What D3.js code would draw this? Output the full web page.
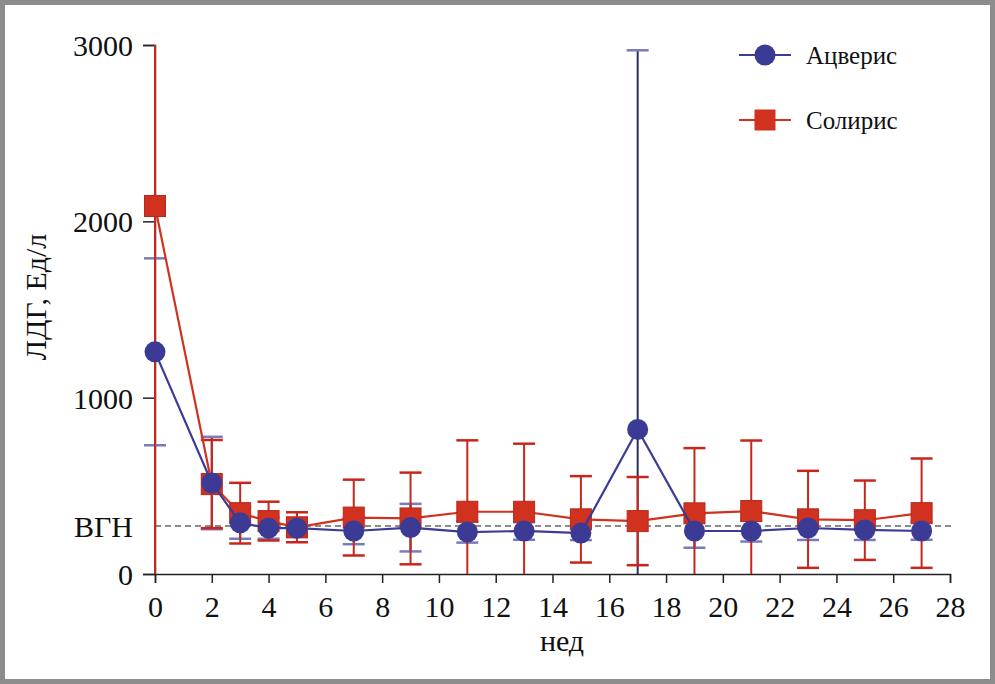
<!DOCTYPE html>
<html><head><meta charset="utf-8">
<script src="https://cdn.jsdelivr.net/npm/d3@7"></script>
<style>html,body{margin:0;padding:0;background:#fff;}svg{display:block;}</style>
</head><body>
<svg id="c" width="995" height="684"></svg>
<script>
const weeks = [0,2,3,4,5,7,9,11,13,15,17,19,21,23,25,27];
const acverisMean = [1260,516,290,260,260,244,263,238,244,232,820,244,244,261,250,244];
const acverisErr  = [530,262,90,60,50,75,135,60,50,40,2150,95,60,68,57,50];
const solirisMean = [2087,510,345,300,265,320,315,353,353,310,300,344,357,310,305,345];
const solirisErr  = [2200,250,172,110,85,215,260,405,386,245,250,370,400,275,225,310];
const yTicks = [0,1000,2000,3000];
const xTicks = d3.range(0,29,2);
const seriesNames = ["Ацверис","Солирис"];
const ulnValue = 272;
const ulnLabel = "ВГН";

const svg = d3.select("#c");
const W=995,H=684;
svg.append("rect").attr("x",2.5).attr("y",2.5).attr("width",W-5).attr("height",H-5)
  .attr("fill","#fff").attr("stroke","#8c8c8c").attr("stroke-width",5);

const x = d3.scaleLinear().domain([0,28]).range([155,950]);
const y = d3.scaleLinear().domain([0,3000]).range([574,45]);
const font = "'Liberation Serif','Times New Roman',serif";

// axes
const yAxis = svg.append("g").attr("transform","translate(155,0)")
  .call(d3.axisLeft(y).tickValues(yTicks).tickSize(12).tickFormat(d3.format("d")));
const xAxis = svg.append("g").attr("transform","translate(0,574)")
  .call(d3.axisBottom(x).tickValues(xTicks).tickSize(9));
[yAxis,xAxis].forEach(g=>{
  g.select(".domain").attr("stroke","#222").attr("stroke-width",1.5);
  g.selectAll(".tick line").attr("stroke","#222").attr("stroke-width",1.5);
  g.selectAll("text").attr("font-family",font).attr("font-size",30).attr("fill","#111");
});
yAxis.selectAll("text").attr("x",-22).attr("dy","0.35em");
xAxis.selectAll("text").attr("y",22);

// ULN line
svg.append("line").attr("x1",155).attr("x2",955).attr("y1",y(ulnValue)).attr("y2",y(ulnValue))
  .attr("stroke","#666").attr("stroke-width",1.5).attr("stroke-dasharray","6,4");
svg.append("text").attr("x",133).attr("y",y(ulnValue)).attr("dy","0.35em").attr("text-anchor","end")
  .attr("font-family",font).attr("font-size",30).attr("fill","#111").text(ulnLabel);

// labels
svg.append("text").attr("x",562).attr("y",651).attr("text-anchor","middle")
  .attr("font-family",font).attr("font-size",30).attr("fill","#111").text("нед");
svg.append("text").attr("transform","translate(46,297) rotate(-90)").attr("text-anchor","middle")
  .attr("font-family",font).attr("font-size",30).attr("fill","#111").text("ЛДГ, Ед/л");

const blue="#3b3b95", red="#d0321f";
function errorBars(means, errs, lineColor, capColor){
  const g = svg.append("g");
  weeks.forEach((w,i)=>{
    const hi = means[i]+errs[i], lo = means[i]-errs[i];
    const yHi = y(Math.min(hi,3000)), yLo = y(Math.max(lo,0));
    const cx = x(w);
    g.append("line").attr("x1",cx).attr("x2",cx).attr("y1",yHi).attr("y2",yLo)
      .attr("stroke",lineColor).attr("stroke-width",2);
    if(hi<=3000) g.append("line").attr("x1",cx-11).attr("x2",cx+11).attr("y1",yHi).attr("y2",yHi)
      .attr("stroke",capColor).attr("stroke-width",2.5);
    if(lo>=0) g.append("line").attr("x1",cx-11).attr("x2",cx+11).attr("y1",yLo).attr("y2",yLo)
      .attr("stroke",capColor).attr("stroke-width",2.5);
  });
}
errorBars(acverisMean, acverisErr, "#2c2c5c", "#7b7bbb");
errorBars(solirisMean, solirisErr, "#c8261c", "#c8261c");

const line = d3.line().x((d,i)=>x(weeks[i])).y(d=>y(d));
// Soliris
svg.append("path").datum(solirisMean).attr("d",line).attr("fill","none").attr("stroke",red).attr("stroke-width",2.2);
svg.append("g").selectAll("rect").data(solirisMean).join("rect")
  .attr("x",(d,i)=>x(weeks[i])-10.5).attr("y",d=>y(d)-10.5).attr("width",21).attr("height",21)
  .attr("fill",red).attr("stroke","#b8281c").attr("stroke-width",1);
// Acveris
svg.append("path").datum(acverisMean).attr("d",line).attr("fill","none").attr("stroke",blue).attr("stroke-width",2.2);
svg.append("g").selectAll("circle").data(acverisMean).join("circle")
  .attr("cx",(d,i)=>x(weeks[i])).attr("cy",d=>y(d)).attr("r",10.5).attr("fill",blue);

// legend
const lg = svg.append("g");
[[55,blue,"circle"],[120,red,"rect"]].forEach(([ly,col,shape],i)=>{
  lg.append("line").attr("x1",739).attr("x2",791).attr("y1",ly).attr("y2",ly).attr("stroke",col).attr("stroke-width",2.2);
  if(shape==="circle") lg.append("circle").attr("cx",765).attr("cy",ly).attr("r",10.5).attr("fill",col);
  else lg.append("rect").attr("x",754.5).attr("y",ly-10.5).attr("width",21).attr("height",21).attr("fill",col);
  lg.append("text").attr("x",806).attr("y",ly).attr("dy","0.35em").attr("font-family",font)
    .attr("font-size",25).attr("fill","#111").text(seriesNames[i]);
});
</script>
</body></html>
